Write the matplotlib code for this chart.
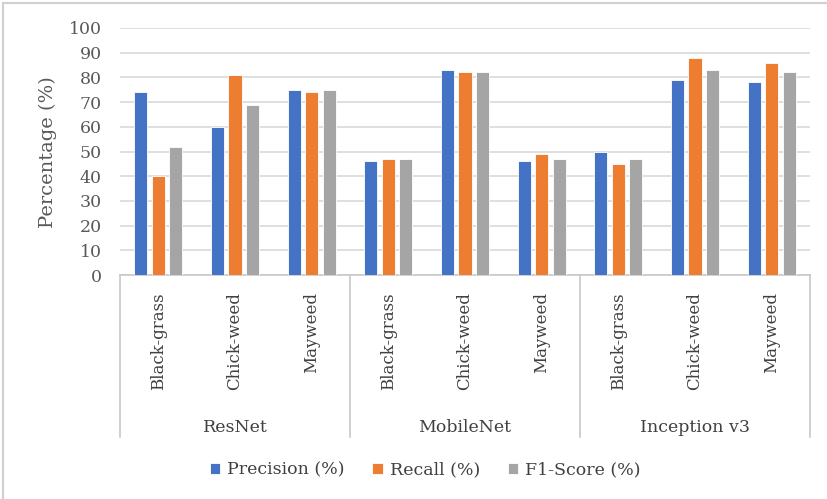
import numpy as np
import matplotlib.pyplot as plt
from matplotlib.transforms import blended_transform_factory
from matplotlib.patches import Rectangle

# data
models = ['ResNet', 'MobileNet', 'Inception v3']
weeds = ['Black-grass', 'Chick-weed', 'Mayweed']
precision = [74, 60, 75, 46, 83, 46, 50, 79, 78]
recall = [40, 81, 74, 47, 82, 49, 45, 88, 86]
f1 = [52, 69, 75, 47, 82, 47, 47, 83, 82]

plt.rcParams['font.family'] = ['DejaVu Serif']

W, H = 827, 499
fig = plt.figure(figsize=(W / 100, H / 100), dpi=100)
ax = fig.add_axes([120 / W, 1 - 275 / H, 690 / W, 247 / H])

x = np.arange(len(precision))
bw = 0.17
step = 0.228
ax.bar(x - step, precision, bw, color='#4472C4', edgecolor='white', linewidth=0.6, label='Precision (%)', zorder=3)
ax.bar(x, recall, bw, color='#ED7D31', edgecolor='white', linewidth=0.6, label='Recall (%)', zorder=3)
ax.bar(x + step, f1, bw, color='#A5A5A5', edgecolor='white', linewidth=0.6, label='F1-Score (%)', zorder=3)

ax.set_xlim(-0.5, len(x) - 0.5)
ax.set_ylim(0, 100)
ax.set_yticks(range(0, 101, 10))
ax.tick_params(axis='y', length=0, pad=13, labelsize=12.5, labelcolor='#595959')
ax.set_xticks([])
ax.grid(axis='y', color='#D9D9D9', linewidth=1.2, zorder=0)
for s in ['left', 'right', 'top']:
    ax.spines[s].set_visible(False)
ax.spines['bottom'].set_color('#C8C8C8')
ax.spines['bottom'].set_linewidth(1.2)

# multi-level category axis
tr = blended_transform_factory(ax.transData, fig.transFigure)
for i in range(len(x)):
    ax.text(x[i], 1 - 292 / H, weeds[i % 3], rotation=90, ha='center', va='top',
            fontsize=12, color='#404040', transform=tr)
for g, name in enumerate(models):
    ax.text(g * 3 + 1, 1 - 427 / H, name, ha='center', va='center',
            fontsize=12.5, color='#404040', transform=tr)
for b in range(len(models) + 1):
    ax.plot([b * 3 - 0.5] * 2, [1 - 275 / H, 1 - 437 / H], color='#C8C8C8',
            linewidth=1.2, transform=tr, clip_on=False)

fig.text(48 / W, 1 - 152 / H, 'Percentage (%)', rotation=90, ha='center', va='center',
         fontsize=14, color='#595959')

fig.legend(loc='center', bbox_to_anchor=(425 / W, 1 - 470 / H), ncol=3, frameon=False,
           fontsize=12.5, handlelength=0.6, handleheight=0.6, handletextpad=0.4,
           columnspacing=1.6, labelcolor='#404040')

# light frame around the chart
fig.patches.append(Rectangle((3 / W, -0.1), 1.2, 1.1 - 3 / H, transform=fig.transFigure,
                             fill=False, edgecolor='#D0D0D0', linewidth=1.5))

fig.savefig('out.png', dpi=100)
